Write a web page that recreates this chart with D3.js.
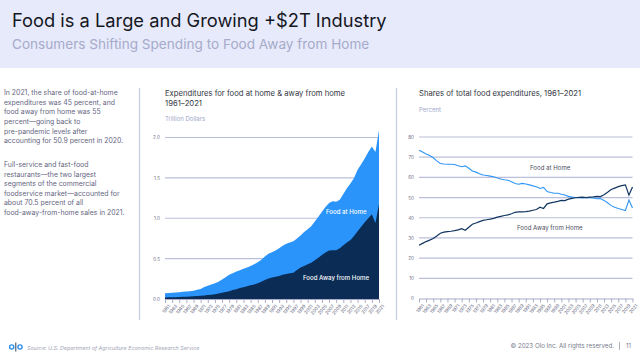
<!DOCTYPE html>
<html><head><meta charset="utf-8">
<script src="https://cdn.jsdelivr.net/npm/d3@7"></script>
<style>html,body{margin:0;padding:0;background:#fff}svg{display:block}text{font-family:Inter,"Noto Sans",sans-serif}</style>
</head><body><svg id="c" width="640" height="363"></svg>
<script>
const years = d3.range(1961, 2022);
const tickYears = d3.range(1961, 2022, 2);
const totalSpend = [.07,.074,.077,.08,.084,.089,.092,.097,.103,.115,.125,.15,.165,.18,.195,.215,.24,.27,.30,.32,.34,.355,.375,.39,.41,.43,.455,.485,.525,.56,.58,.60,.63,.66,.685,.70,.715,.75,.785,.83,.865,.90,.96,1.02,1.08,1.14,1.19,1.21,1.205,1.23,1.30,1.37,1.43,1.50,1.60,1.67,1.74,1.82,1.89,1.82,2.09];
const awaySpend = [.02,.021,.022,.023,.025,.027,.029,.031,.033,.036,.039,.043,.048,.053,.06,.068,.076,.086,.096,.11,.122,.135,.147,.158,.17,.18,.195,.215,.235,.255,.265,.275,.285,.30,.31,.318,.325,.36,.39,.41,.43,.45,.48,.51,.545,.575,.60,.605,.605,.63,.665,.70,.73,.78,.84,.895,.95,1.00,1.05,.94,1.175];
const homeShare = [73.4,72.6,71.6,70.8,69.7,68.2,66.9,66.6,66.5,66.5,66.4,65.8,65.3,65.7,64.5,63.2,62.6,61.8,61.2,60.9,60.6,60.3,59.7,59.2,58.8,58.6,57.8,57,56.6,57,56.7,56.3,55.8,55.4,54.5,55,53,52.5,52.1,52.1,51.6,51.3,50.6,50.2,50,49.9,49.8,50,49.9,49.8,49.4,49.5,48.6,47.4,46,45.2,44.6,44.1,43.6,48.8,44.8];
const awayShare = [26.4,27.3,28.2,28.9,29.7,31,32.3,32.9,33.1,33.3,33.6,34,34.6,33.8,35.3,36.8,37.4,38.1,38.7,39,39.3,39.7,40.3,40.7,41.1,41.4,42,42.7,42.9,42.9,43,43.3,43.7,44.1,45.2,44.6,46.9,47.4,47.7,48.1,48.6,48.5,49.2,49.6,49.9,50.1,50.2,50,50.2,50.3,50.6,50.5,51.4,52.6,54,54.7,55.4,55.9,56.3,51.2,55.2];
const leftTicks = [0,0.5,1.0,1.5,2.0];
const rightTicks = [0,10,20,30,40,50,60,70,80];
const para1 = ["In 2021, the share of food-at-home","expenditures was 45 percent, and","food away from home was 55","percent—going back to","pre-pandemic levels after","accounting for 50.9 percent in 2020."];
const para2 = ["Full-service and fast-food","restaurants—the two largest","segments of the commercial","foodservice market—accounted for","about 70.5 percent of all","food-away-from-home sales in 2021."];

const svg = d3.select("#c");
const txt=(x,y,s,size,fill,o={})=>svg.append("text").attr("x",x).attr("y",y).text(s).attr("font-size",size).attr("fill",fill).attr("text-anchor",o.a||"start").attr("font-style",o.i?"italic":null).attr("font-weight",o.w||null);
svg.append("rect").attr("width",640).attr("height",68).attr("fill","#e7eafb");
txt(12,26.5,"Food is a Large and Growing +$2T Industry",18.3,"#15171f");
txt(12,49,"Consumers Shifting Spending to Food Away from Home",13.6,"#a6abca");
para1.forEach((s,i)=>txt(4,95+i*9.65,s,6.9,"#65667f"));
para2.forEach((s,i)=>txt(4,167+i*9.55,s,6.9,"#65667f"));
[139.5,396.5].forEach(x=>svg.append("line").attr("x1",x).attr("x2",x).attr("y1",88).attr("y2",320).attr("stroke","#c6cae2").attr("stroke-width",1.2));

function axes(x,y,ticks,fmt){
  const gy=svg.append("g").attr("transform",`translate(${x.range()[0]},0)`).call(d3.axisLeft(y).tickValues(ticks).tickFormat(fmt).tickSize(0).tickPadding(5));
  gy.select(".domain").remove();
  gy.selectAll("text").attr("font-size",4.6).attr("fill","#6e7088");
  const [a,b]=x.range();
  ticks.forEach(t=>svg.append("line").attr("x1",a).attr("x2",b).attr("y1",y(t)).attr("y2",y(t)).attr("stroke",t===0?"none":"#bcbfdb").attr("stroke-width",1.2));
  const gx=svg.append("g").attr("transform",`translate(0,${y.range()[0]})`).call(d3.axisBottom(x).tickValues(tickYears).tickFormat(d3.format("d")).tickSize(4).tickSizeOuter(0));
  gx.select(".domain").attr("stroke","#a9adc9");
  gx.selectAll(".tick line").attr("stroke","#a9adc9");
  gx.selectAll("text").attr("font-size",4.6).attr("fill","#6e7088").attr("text-anchor","end").attr("transform","rotate(-50)").attr("dx","-2.5").attr("dy","1.5");
}

// left
const x1=d3.scaleLinear().domain([1961,2021]).range([165,379]);
const y1=d3.scaleLinear().domain([0,2]).range([299,137.5]);
axes(x1,y1,leftTicks,d3.format(".1f"));
const area=(vals)=>d3.area().x((d,i)=>x1(years[i])).y0(y1(0)).y1(d=>y1(d))(vals);
svg.append("path").attr("d",area(totalSpend)).attr("fill","#2b94fb");
svg.append("path").attr("d",area(awaySpend)).attr("fill","#0a2c55");
txt(326,214,"Food at Home",6.1,"#fff",{w:500});
txt(303,280,"Food Away from Home",6.1,"#fff",{w:500});
txt(165,96,"Expenditures for food at home & away from home",7.7,"#33363f");
txt(165,105.5,"1961–2021",7.7,"#33363f");
txt(165,120.5,"Trillion Dollars",6,"#a2a7cb");

// right
const x2=d3.scaleLinear().domain([1961,2021]).range([419,632.5]);
const y2=d3.scaleLinear().domain([0,80]).range([298.5,137]);
axes(x2,y2,rightTicks,d3.format("d"));
const line=d3.line().x((d,i)=>x2(years[i])).y(d=>y2(d));
svg.append("path").attr("d",line(homeShare)).attr("fill","none").attr("stroke","#2f95f7").attr("stroke-width",1.1);
svg.append("path").attr("d",line(awayShare)).attr("fill","none").attr("stroke","#12365f").attr("stroke-width",1.2);
txt(530,170,"Food at Home",6.1,"#4c4e5c");
txt(517,230,"Food Away from Home",6.1,"#4c4e5c");
txt(419,96,"Shares of total food expenditures, 1961–2021",7.7,"#33363f");
txt(419,111.5,"Percent",6,"#a2a7cb");

// footer
const logo=svg.append("g").attr("fill","none").attr("stroke","#2b8fef").attr("stroke-width",1.4);
logo.append("circle").attr("cx",11.7).attr("cy",347).attr("r",2.1);
logo.append("circle").attr("cx",20).attr("cy",347).attr("r",2.1);
logo.append("line").attr("x1",15.8).attr("x2",15.8).attr("y1",342.5).attr("y2",351.5).attr("stroke","#33424f").attr("stroke-width",1);
txt(27,350,"Source: U.S. Department of Agriculture Economic Research Service",5.4,"#a3a6b6",{i:true});
txt(510.5,348,"© 2023 Olo Inc. All rights reserved.",6.2,"#777a8c");
svg.append("line").attr("x1",619.5).attr("x2",619.5).attr("y1",342).attr("y2",350).attr("stroke","#8b8d9b").attr("stroke-width",.7);
txt(626,348,"11",6,"#777a8c");
</script></body></html>
